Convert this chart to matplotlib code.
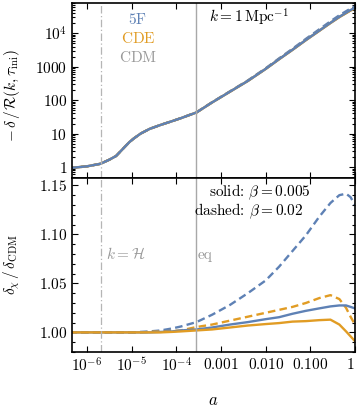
import numpy as np
import matplotlib
matplotlib.use("Agg")
from matplotlib import pyplot as plt
from matplotlib.ticker import FixedLocator, FixedFormatter, LogLocator, MultipleLocator, NullFormatter

plt.rcParams['mathtext.fontset'] = 'cm'
plt.rcParams['font.family'] = ['DejaVu Serif']

# scale factor grid (log10 a)
log_a = [-6.4, -6.0, -5.7, -5.5, -5.35, -5.25, -5.15, -5.05, -4.95, -4.8, -4.6, -4.35, -4.1,
         -3.9, -3.55, -3.2, -2.8, -2.4, -2.0, -1.7, -1.4, -1.1, -0.8, -0.55, -0.35, -0.2,
         -0.1, 0.0]

# -delta / R for CDM (top panel)
delta_cdm = [0.93, 1.05, 1.25, 1.66, 2.14, 2.95, 4.07, 5.6, 7.2, 10.0, 13.8, 18.2, 23.4,
             28.8, 42.7, 85, 178, 372, 851, 1660, 3160, 6170, 11700, 20000, 30200, 39800,
             47900, 56200]

# delta_chi / delta_CDM (bottom panel)
ratio_5f_solid = [1.0, 1.0, 1.0, 1.0, 1.0, 1.0, 1.0, 1.0, 1.0, 1.0, 1.0, 1.0005, 1.001,
                  1.002, 1.003, 1.005, 1.008, 1.0105, 1.0135, 1.0155, 1.019, 1.022, 1.0245,
                  1.0265, 1.0275, 1.0275, 1.026, 1.0245]
ratio_5f_dashed = [1.0, 1.0, 1.0, 1.0, 1.0, 1.0, 1.0, 1.0, 1.0, 1.0005, 1.001, 1.002, 1.004,
                   1.006, 1.0105, 1.018, 1.028, 1.040, 1.053, 1.067, 1.083, 1.099, 1.118,
                   1.132, 1.140, 1.1415, 1.138, 1.130]
ratio_cde_solid = [1.0, 1.0, 1.0, 1.0, 1.0, 1.0, 1.0, 1.0, 1.0, 1.0, 1.0, 1.0, 1.0005,
                   1.001, 1.002, 1.003, 1.005, 1.007, 1.0085, 1.0095, 1.011, 1.0115, 1.0125,
                   1.013, 1.008, 1.001, 0.996, 0.991]
ratio_cde_dashed = [1.0, 1.0, 1.0, 1.0, 1.0, 1.0, 1.0, 1.0, 1.0, 1.0, 1.0005, 1.001, 1.0015,
                    1.002, 1.0055, 1.008, 1.012, 1.016, 1.020, 1.023, 1.026, 1.030, 1.035,
                    1.038, 1.034, 1.025, 1.016, 1.008]

a_k_equals_H = 2.05e-6
a_eq = 2.8e-4

x_ticks = [1e-6, 1e-5, 1e-4, 1e-3, 1e-2, 1e-1, 1]
x_labels = [r'$10^{-6}$', r'$10^{-5}$', r'$10^{-4}$', r'$0.001$', r'$0.010$', r'$0.100$', r'$1$']
top_y_ticks = [1, 10, 100, 1000, 1e4]
top_y_labels = [r'$1$', r'$10$', r'$100$', r'$1000$', r'$10^4$']
bot_y_ticks = [1.00, 1.05, 1.10, 1.15]
bot_y_labels = [r'$1.00$', r'$1.05$', r'$1.10$', r'$1.15$']

blue = '#5E81B5'
orange = '#E19C24'
gray = '#999999'
lw = 1.7
dash = (3.2, 1.8)

a = 10 ** np.array(log_a)
cdm = np.array(delta_cdm)

fig = plt.figure(figsize=(3.57, 4.13), dpi=100)
ax1 = fig.add_axes([72 / 357, 1 - 178 / 413, 283 / 357, 175 / 413])
ax2 = fig.add_axes([72 / 357, 1 - 352 / 413, 283 / 357, 174 / 413])

# top panel
ax1.plot(a, cdm, color=gray, lw=lw)
ax1.plot(a, cdm * np.array(ratio_cde_dashed), color=orange, lw=lw, dashes=dash)
ax1.plot(a, cdm * np.array(ratio_5f_dashed), color=blue, lw=lw, dashes=dash)
ax1.plot(a, cdm * np.array(ratio_cde_solid), color=orange, lw=lw)
ax1.plot(a, cdm * np.array(ratio_5f_solid), color=blue, lw=lw)

# bottom panel
ax2.plot(a, ratio_5f_dashed, color=blue, lw=lw, dashes=dash)
ax2.plot(a, ratio_cde_dashed, color=orange, lw=lw, dashes=dash)
ax2.plot(a, ratio_5f_solid, color=blue, lw=lw)
ax2.plot(a, ratio_cde_solid, color=orange, lw=lw)

for ax in (ax1, ax2):
    ax.axvline(a_k_equals_H, color='#B5B5B5', lw=0.9, dashes=(6, 2, 1, 2))
    ax.axvline(a_eq, color='#A8A8A8', lw=1.0)
    ax.set_xscale('log')
    ax.set_xlim(4.6e-7, 1.0)
    ax.xaxis.set_major_locator(FixedLocator(x_ticks))
    ax.xaxis.set_minor_locator(LogLocator(base=10, subs=np.arange(2, 10)))
    ax.xaxis.set_minor_formatter(NullFormatter())
    ax.tick_params(which='both', direction='in', top=True, right=True, width=0.8)
    ax.tick_params(which='major', length=4, labelsize=11)
    ax.tick_params(which='minor', length=2)
    for s in ax.spines.values():
        s.set_linewidth(1.2)

ax1.xaxis.set_major_formatter(NullFormatter())
ax1.set_yscale('log')
ax1.set_ylim(0.47, 8e4)
ax1.yaxis.set_major_locator(FixedLocator(top_y_ticks))
ax1.yaxis.set_major_formatter(FixedFormatter(top_y_labels))
ax1.yaxis.set_minor_locator(LogLocator(base=10, subs=np.arange(2, 10)))
ax1.yaxis.set_minor_formatter(NullFormatter())
ax1.set_ylabel(r'$-\,\delta\,/\,\mathcal{R}(k,\tau_{\rm ini})$', fontsize=11)
ax1.yaxis.set_label_coords(-0.175, 0.47)

ax1.text(0.233, 0.903, r'$\mathrm{5F}$', color=blue, fontsize=11, ha='center', va='center', transform=ax1.transAxes)
ax1.text(0.233, 0.80, r'$\mathrm{CDE}$', color=orange, fontsize=11, ha='center', va='center', transform=ax1.transAxes)
ax1.text(0.233, 0.69, r'$\mathrm{CDM}$', color=gray, fontsize=11, ha='center', va='center', transform=ax1.transAxes)
ax1.text(0.625, 0.915, r'$k = 1\,\mathrm{Mpc}^{-1}$', color='black', fontsize=11, ha='center', va='center', transform=ax1.transAxes)

ax2.set_xticklabels(x_labels)
ax2.get_xticklabels()[-1].set_horizontalalignment('right')
ax2.set_ylim(0.98, 1.1575)
ax2.yaxis.set_major_locator(FixedLocator(bot_y_ticks))
ax2.yaxis.set_major_formatter(FixedFormatter(bot_y_labels))
ax2.yaxis.set_minor_locator(MultipleLocator(0.01))
ax2.set_ylabel(r'$\delta_\chi\,/\,\delta_{\rm CDM}$', fontsize=11)
ax2.yaxis.set_label_coords(-0.175, 0.5)
ax2.set_xlabel(r'$a$', fontsize=12)
ax2.xaxis.set_label_coords(0.498, -0.23)

ax2.text(0.664, 0.92, r'solid: $\beta = 0.005$', family='cmr10', fontsize=11, ha='center', va='center', transform=ax2.transAxes)
ax2.text(0.625, 0.81, r'dashed: $\beta = 0.02$', family='cmr10', fontsize=11, ha='center', va='center', transform=ax2.transAxes)
ax2.text(0.12, 0.563, r'$k = \mathcal{H}$', color=gray, fontsize=11, ha='left', va='center', transform=ax2.transAxes)
ax2.text(0.445, 0.557, 'eq', family='cmr10', color=gray, fontsize=11, ha='left', va='center', transform=ax2.transAxes)

fig.savefig('out.png', dpi=100)
